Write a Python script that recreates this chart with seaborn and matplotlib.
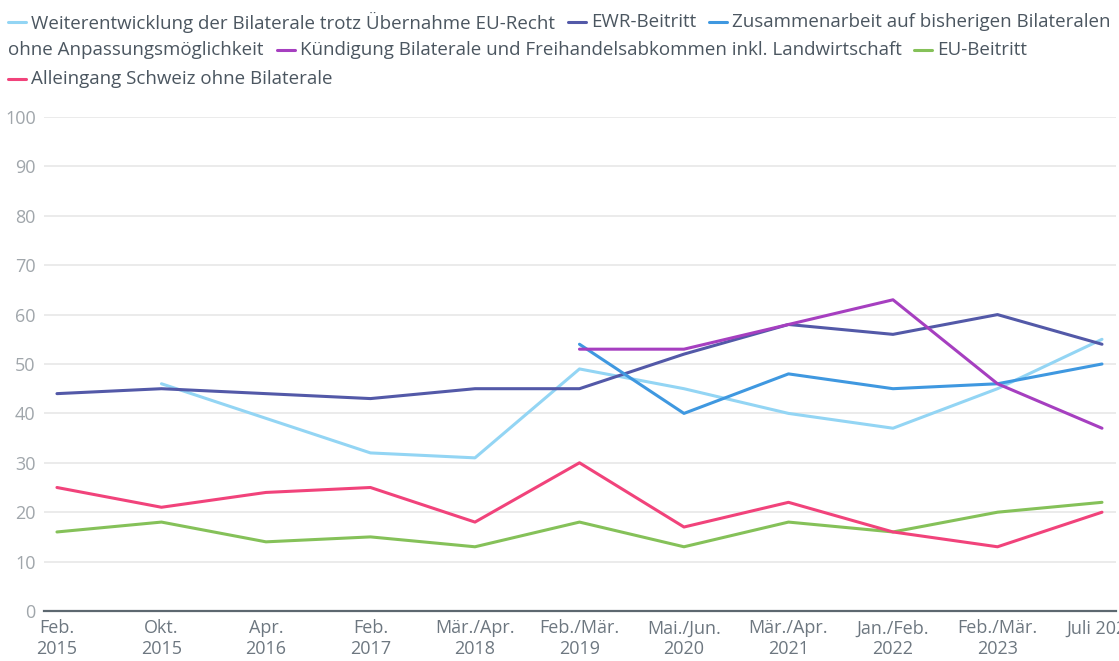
import numpy as np
import pandas as pd
import matplotlib
matplotlib.use("Agg")
import matplotlib.pyplot as plt
import seaborn as sns
from matplotlib.lines import Line2D

# ================= DATA =================
PERIODS = ["Feb.\n2015", "Okt.\n2015", "Apr.\n2016", "Feb.\n2017", "Mär./Apr.\n2018",
           "Feb./Mär.\n2019", "Mai./Jun.\n2020", "Mär./Apr.\n2021", "Jan./Feb.\n2022",
           "Feb./Mär.\n2023", "Juli 2023"]

NA = np.nan
weiterentwicklung = [NA, 46, 39, 32, 31, 49, 45, 40, 37, 45, 55]
ewr_beitritt = [44, 45, 44, 43, 45, 45, 52, 58, 56, 60, 54]
zusammenarbeit = [NA, NA, NA, NA, NA, 54, 40, 48, 45, 46, 50]
kuendigung = [NA, NA, NA, NA, NA, 53, 53, 58, 63, 46, 37]
eu_beitritt = [16, 18, 14, 15, 13, 18, 13, 18, 16, 20, 22]
alleingang = [25, 21, 24, 25, 18, 30, 17, 22, 16, 13, 20]

SERIES = {
    "Weiterentwicklung": weiterentwicklung,
    "EWR-Beitritt": ewr_beitritt,
    "Zusammenarbeit": zusammenarbeit,
    "Kündigung": kuendigung,
    "EU-Beitritt": eu_beitritt,
    "Alleingang": alleingang,
}

COLORS = {
    "Weiterentwicklung": "#93d5f4",
    "EWR-Beitritt": "#5359a8",
    "Zusammenarbeit": "#3f98e0",
    "Kündigung": "#a63fc0",
    "EU-Beitritt": "#85c159",
    "Alleingang": "#f1437b",
}

# legend rows: (key or None for plain continuation text, label)
LEGEND_ROWS = [
    [("Weiterentwicklung", "Weiterentwicklung der Bilaterale trotz Übernahme EU-Recht"),
     ("EWR-Beitritt", "EWR-Beitritt"),
     ("Zusammenarbeit", "Zusammenarbeit auf bisherigen Bilateralen")],
    [(None, "ohne Anpassungsmöglichkeit"),
     ("Kündigung", "Kündigung Bilaterale und Freihandelsabkommen inkl. Landwirtschaft"),
     ("EU-Beitritt", "EU-Beitritt")],
    [("Alleingang", "Alleingang Schweiz ohne Bilaterale")],
]

# ================= PLOT =================
W, H = 1119, 661
sns.set_style("white")
plt.rcParams["font.family"] = ["Open Sans", "DejaVu Sans"]

rows = []
for name, vals in SERIES.items():
    for i, v in enumerate(vals):
        rows.append({"x": i, "value": v, "series": name})
df = pd.DataFrame(rows).dropna()

fig = plt.figure(figsize=(W / 100, H / 100), dpi=100)
ax = fig.add_axes([44 / W, (H - 611) / H, (1116 - 44) / W, 494 / H])

sns.lineplot(data=df, x="x", y="value", hue="series", palette=COLORS,
             hue_order=list(SERIES.keys()), linewidth=2.2, ax=ax, legend=False,
             estimator=None, sort=False)

ax.set_xlim(-0.124, 10.134)
ax.set_ylim(0, 100)
ax.set_yticks(range(0, 101, 10))
ax.set_xticks(range(len(PERIODS)))
ax.set_xticklabels(PERIODS)
ax.set_xlabel("")
ax.set_ylabel("")
ax.grid(axis="y", color="#e8e8e8", linewidth=1.2)
ax.set_axisbelow(True)
for s in ["top", "right", "left"]:
    ax.spines[s].set_visible(False)
ax.spines["bottom"].set_color("#5d6870")
ax.spines["bottom"].set_linewidth(1.6)
ax.tick_params(axis="y", length=0, pad=6, labelsize=13, labelcolor="#a0a6ab")
ax.tick_params(axis="x", length=0, pad=6, labelsize=13, labelcolor="#6d7780")
for lbl in ax.get_xticklabels():
    lbl.set_linespacing(1.2)

# ================= LEGEND (flow layout) =================
renderer = fig.canvas.get_renderer()
row_y = [22, 50, 79]
for ry, items in zip(row_y, LEGEND_ROWS):
    x = 8
    yf = 1 - ry / H
    for key, label in items:
        if key is not None:
            fig.add_artist(Line2D([x / W, (x + 18) / W], [yf, yf], transform=fig.transFigure,
                                  color=COLORS[key], linewidth=2.2))
            x += 23
        t = fig.text(x / W, yf, label, fontsize=13.5, color="#4b5660", va="center", ha="left")
        x += t.get_window_extent(renderer).width + 13

fig.savefig("out.png", dpi=100)
